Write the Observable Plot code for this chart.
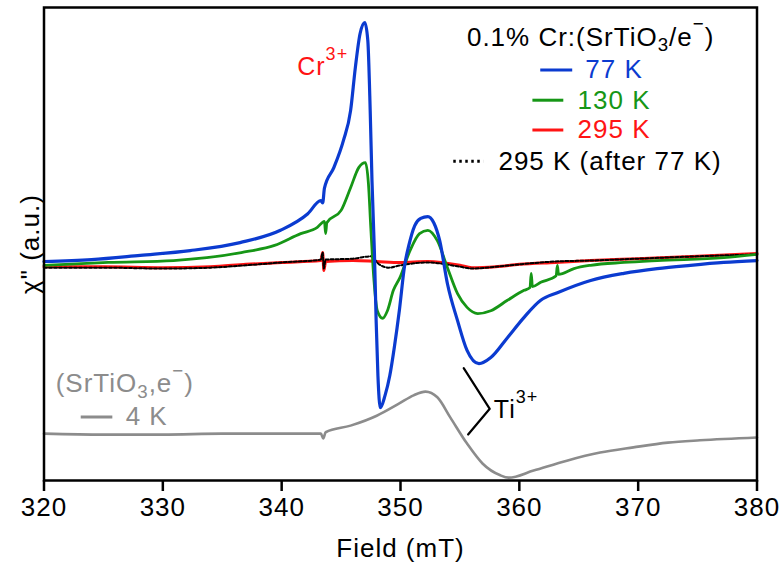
<!DOCTYPE html>
<html>
<head>
<meta charset="utf-8">
<script src="https://cdn.jsdelivr.net/npm/d3@7"></script>
<script src="https://cdn.jsdelivr.net/npm/@observablehq/plot@0.6"></script>
<style>
  html, body { margin: 0; padding: 0; background: #fff; }
</style>
</head>
<body>
<div id="chart"></div>
<script>
// ---- Data (field in mT, chi'' in arbitrary units) ----
const xTicks = [320, 330, 340, 350, 360, 370, 380];

// 0.1% Cr:(SrTiO3/e-) at 77 K
const field77 = [320,324,328.1,332.3,336.5,339.9,342.2,343.3,343.45,343.6,344.4,345.2,345.8,346.2,346.6,347.0,347.25,347.45,347.6,347.8,347.95,348.1,348.3,348.7,349.1,349.5,349.9,350.35,350.7,351.2,351.7,352.3,352.8,353.3,353.95,354.8,355.6,356.6,357.6,359.0,360.4,361.8,363.2,366.0,368.8,371.6,374.4,377.2,380];
const chi77 = [-3.7,-3.3,-2.4,-1.4,0.3,2.9,6.4,9.2,8.7,11.8,16.2,21.9,28.2,37.3,44.5,46.8,43.0,28.2,13.4,-1.4,-16.2,-27.8,-34.6,-32.0,-27.8,-21.5,-14.1,-4.5,-0.3,3.9,5.4,5.8,4.5,0.7,-8.4,-16.2,-22.5,-25.3,-24.0,-19.8,-15.5,-11.9,-10.3,-7.7,-6.2,-5.2,-4.5,-3.9,-3.5];

// 130 K
const field130 = [320,325.4,330.9,333.7,336.6,339.4,341.6,343.0,343.6,343.7,343.8,345.0,345.8,346.5,347.05,347.3,347.5,347.75,348.05,348.5,348.9,349.4,349.95,350.8,351.6,352.3,353.1,353.95,354.8,355.6,356.5,357.6,359.0,360.4,360.9,361.0,361.1,361.8,363.1,363.2,363.3,364.6,366.0,368.8,371.6,377.2,380];
const chi130 = [-4.5,-3.9,-3.5,-2.9,-1.8,-0.3,2.2,3.5,4.8,2.2,4.5,7.1,11.9,16.2,17.2,12.8,3.5,-7.1,-14.1,-15.7,-14.1,-9.8,-7.1,-1.4,2.2,2.9,0.7,-5.0,-10.5,-13.4,-14.7,-14.1,-11.9,-9.8,-9.2,-6.2,-9.0,-8.1,-6.7,-4.5,-6.4,-5.2,-4.5,-3.9,-3.5,-2.9,-2.2];

// 295 K
const field295 = [320,325,330,334,337,340,343.3,343.45,343.55,343.7,346,348,350,352.3,355,356,358,360,363,366,370,375,380];
const chi295 = [-4.8,-4.8,-5.0,-4.8,-4.3,-3.9,-3.5,-1.8,-5.6,-3.7,-3.5,-3.7,-3.9,-3.7,-4.5,-5.0,-4.8,-4.3,-3.9,-3.5,-3.1,-2.6,-2.0];

// 295 K (after 77 K)
const field295b = [320,325,330,334,337,340,343.3,343.45,343.55,343.7,346,347.5,348.2,349,350,352.3,355,356,358,360,363,366,370,375,380];
const chi295b = [-5.0,-5.0,-5.2,-5.0,-4.5,-3.9,-3.3,-1.8,-5.2,-3.3,-3.1,-2.6,-4.3,-5.0,-4.5,-3.9,-4.8,-5.2,-4.8,-4.3,-3.7,-3.5,-3.1,-2.6,-2.2];

// (SrTiO3, e-) at 4 K
const field4 = [320,325,330,335,340,343.3,343.5,343.7,345.8,348.0,349.9,351.1,352.1,353.1,354.2,355.6,356.9,358.4,359.1,361.2,364.0,366.8,369.6,372.5,375.2,380];
const chi4 = [-40.1,-40.3,-40.3,-40.1,-40.1,-40.1,-41.1,-39.8,-38.4,-36.3,-33.7,-32.0,-31.2,-32.4,-36.7,-42.2,-46.4,-48.9,-49.4,-47.9,-45.8,-44.1,-43.0,-42.0,-41.5,-40.9];

// Legend / annotation texts and their anchor positions (data units)
const legendTitle = [{x: 366.0, y: 43.7, text: "0.1% Cr:(SrTiO_{3}/e^{−})"}];
const legendRows = [
  {label: "77 K", color: "#0b3bd0", x1: 361.76, x2: 364.45, tx: 365.55, y: 36.8},
  {label: "130 K", color: "#169616", x1: 361.1, x2: 363.7, tx: 364.9, y: 30.4},
  {label: "295 K", color: "#ff1414", x1: 361.1, x2: 363.7, tx: 364.9, y: 24.1}
];
const legendDotted = [{label: "295 K (after 77 K)", color: "#000000", x1: 354.44, x2: 356.97, tx: 358.24, y: 17.5}];
const grayLabel = [{x: 320.98, y: -29.6, text: "(SrTiO_{3},e^{−})"}];
const grayRow = [{x1: 323.09, x2: 325.75, tx: 326.87, y: -36.6, label: "4 K"}];
const crLabel = [{x: 341.31, y: 37.5, text: "Cr^{3+}"}];
const tiLabel = [{x: 357.85, y: -35.2, text: "Ti^{3+}"}];
const tiBracket = [{x: 355.32, y: -26.26}, {x: 357.51, y: -34.84}, {x: 355.69, y: -40.27}];

const toRows = (fs, vs) => fs.map((f, i) => ({f, v: vs[i]}));

const colors = {b: "#0b3bd0", g: "#169616", r: "#ff1414", k: "#000000", gray: "#8c8c8c"};

const plot = Plot.plot({
  width: 783,
  height: 567,
  marginLeft: 43.5,
  marginRight: 26.5,
  marginTop: 7,
  marginBottom: 87,
  style: {fontFamily: "'Liberation Sans', Arial, Helvetica, sans-serif", fontSize: "26px", letterSpacing: "1px", background: "#fff", color: "#000"},
  x: {domain: [320, 380]},
  y: {domain: [-50, 50], axis: null},
  marks: [
    Plot.line(toRows(field4, chi4), {x: "f", y: "v", stroke: colors.gray, strokeWidth: 2.6, curve: "monotone-x"}),
    Plot.line(toRows(field295, chi295), {x: "f", y: "v", stroke: colors.r, strokeWidth: 3, curve: "monotone-x"}),
    Plot.line(toRows(field295b, chi295b), {x: "f", y: "v", stroke: colors.k, strokeWidth: 2, strokeDasharray: "3,2", curve: "monotone-x"}),
    Plot.line(toRows(field130, chi130), {x: "f", y: "v", stroke: colors.g, strokeWidth: 2.8, curve: "monotone-x"}),
    Plot.line(toRows(field77, chi77), {x: "f", y: "v", stroke: colors.b, strokeWidth: 3.2, curve: "monotone-x"}),
    Plot.frame({stroke: "#000", strokeWidth: 2.5}),
    Plot.axisX({ticks: xTicks, tickSize: 11, tickPadding: 6, strokeWidth: 2.5, fontSize: 26, label: null}),
    Plot.text(["Field (mT)"], {frameAnchor: "bottom", dy: 68, fontSize: 26, lineAnchor: "middle"}),
    Plot.text(['χ" (a.u.)'], {frameAnchor: "left", dx: -13, rotate: -90, fontSize: 26, textAnchor: "middle", lineAnchor: "middle"}),
    // legend
    Plot.text(legendTitle, {x: "x", y: "y", text: "text", fontSize: 26, textAnchor: "middle", lineAnchor: "middle", fill: "#000"}),
    Plot.link(legendRows, {x1: "x1", x2: "x2", y1: "y", y2: "y", stroke: "color", strokeWidth: 3}),
    Plot.text(legendRows, {x: "tx", y: "y", text: "label", fill: "color", fontSize: 26, textAnchor: "start", lineAnchor: "middle"}),
    Plot.link(legendDotted, {x1: "x1", x2: "x2", y1: "y", y2: "y", stroke: "#000", strokeWidth: 3, strokeDasharray: "2.5,3.5"}),
    Plot.text(legendDotted, {x: "tx", y: "y", text: "label", fill: "#000", fontSize: 26, textAnchor: "start", lineAnchor: "middle"}),
    // gray label
    Plot.text(grayLabel, {x: "x", y: "y", text: "text", fill: colors.gray, fontSize: 26, textAnchor: "start", lineAnchor: "middle"}),
    Plot.link(grayRow, {x1: "x1", x2: "x2", y1: "y", y2: "y", stroke: colors.gray, strokeWidth: 3}),
    Plot.text(grayRow, {x: "tx", y: "y", text: "label", fill: colors.gray, fontSize: 26, textAnchor: "start", lineAnchor: "middle"}),
    // Cr3+ and Ti3+
    Plot.text(crLabel, {x: "x", y: "y", text: "text", fill: colors.r, fontSize: 25, textAnchor: "start", lineAnchor: "middle"}),
    Plot.line(tiBracket, {x: "x", y: "y", stroke: "#000", strokeWidth: 2.2}),
    Plot.text(tiLabel, {x: "x", y: "y", text: "text", fill: "#000", fontSize: 25, textAnchor: "start", lineAnchor: "middle"})
  ]
});

document.getElementById("chart").appendChild(plot);

// Turn ^{..} and _{..} markup into real super/subscript tspans
function richify(svg) {
  svg.querySelectorAll("text").forEach(el => {
    const s = el.textContent;
    if (!/[\^_]\{/.test(s)) return;
    const fsz = parseFloat(getComputedStyle(el).fontSize) || 26;
    while (el.firstChild) el.removeChild(el.firstChild);
    const re = /([\^_])\{([^}]*)\}|([^\^_]+)/g;
    let m, shift = 0;
    while ((m = re.exec(s))) {
      const ts = document.createElementNS("http://www.w3.org/2000/svg", "tspan");
      let target;
      if (m[3] !== undefined) { ts.textContent = m[3]; target = 0; }
      else {
        ts.textContent = m[2];
        ts.setAttribute("font-size", (0.72 * fsz).toFixed(1));
        target = m[1] === "^" ? -0.6 * fsz : 0.22 * fsz;
      }
      ts.setAttribute("dy", (target - shift).toFixed(2));
      shift = target;
      el.appendChild(ts);
    }
  });
}
richify(plot);
</script>
</body>
</html>
